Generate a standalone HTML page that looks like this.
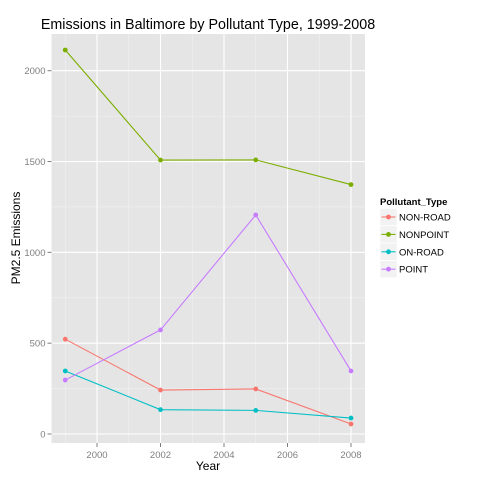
<!DOCTYPE html>
<html><head><meta charset="utf-8"><style>body{margin:0;background:#fff}svg{display:block;font-family:"Liberation Sans",Arial,sans-serif}</style></head>
<body>
<svg id="c" width="480" height="480"></svg>
<script>
const years=[1999,2002,2005,2008];
const seriesNames=["NON-ROAD","NONPOINT","ON-ROAD","POINT"];
const colors=["#F8766D","#7CAE00","#00BFC4","#C77CFF"];
const nonRoad=[522,242,248,55];
const nonPoint=[2114,1508,1509,1373];
const onRoad=[347,134,130,88];
const point=[297,573,1206,347];
const allSeries=[nonRoad,nonPoint,onRoad,point];
const xTicks=[2000,2002,2004,2006,2008];
const yTicks=[0,500,1000,1500,2000];
const NS="http://www.w3.org/2000/svg";
const svg=document.getElementById('c');
function X(v){return 97+(v-2000)*31.75;}
function Y(v){return 434-v*0.18165;}
function mk(t,a,p){const e=document.createElementNS(NS,t);for(const k in a)e.setAttribute(k,a[k]);(p||svg).appendChild(e);return e;}
const L=51.5,R=365,T=34,B=443;
const panel=mk('rect',{x:L,y:T,width:R-L,height:B-T,fill:'#E5E5E5'});


for(let i=0;i<xTicks.length+1;i++){const v=1999+2*i;if(X(v)>L&&X(v)<R){const g=mk('line',{x1:X(v),x2:X(v),y1:T,y2:B,stroke:'#F2F2F2','stroke-width':0.6});}}
for(let i=0;i<yTicks.length;i++){const v=yTicks[i]+250;if(Y(v)>T){const g=mk('line',{x1:L,x2:R,y1:Y(v),y2:Y(v),stroke:'#F2F2F2','stroke-width':0.6});}}
xTicks.forEach(v=>{
 const g=mk('line',{x1:X(v),x2:X(v),y1:T,y2:B,stroke:'#fff','stroke-width':1.1});
 
 mk('line',{x1:X(v),x2:X(v),y1:B,y2:B+4,stroke:'#7F7F7F'});
 const t=mk('text',{x:X(v),y:B+15,'font-size':9.5,fill:'#7F7F7F','text-anchor':'middle'});t.textContent=v;
 
});
yTicks.forEach(v=>{
 const g=mk('line',{x1:L,x2:R,y1:Y(v),y2:Y(v),stroke:'#fff','stroke-width':1.1});
 
 mk('line',{x1:L-4,x2:L,y1:Y(v),y2:Y(v),stroke:'#7F7F7F'});
 const t=mk('text',{x:L-6,y:Y(v)+3.5,'font-size':9.5,fill:'#7F7F7F','text-anchor':'end'});t.textContent=v;
 
});
allSeries.forEach((s,i)=>{
 const pl=mk('polyline',{points:s.map((v,j)=>X(years[j])+','+Y(v)).join(' '),fill:'none',stroke:colors[i],'stroke-width':1.1});
 
 s.forEach((v,j)=>{const c=mk('circle',{cx:X(years[j]),cy:Y(v),r:2.4,fill:colors[i]});
 });
});
let t=mk('text',{x:208,y:29,'font-size':14.3,'text-anchor':'middle',fill:'#000'});t.textContent='Emissions in Baltimore by Pollutant Type, 1999-2008';

t=mk('text',{x:208,y:470,'font-size':12,'text-anchor':'middle',fill:'#000'});t.textContent='Year';

t=mk('text',{x:20,y:238,'font-size':12,'text-anchor':'middle',fill:'#000',transform:'rotate(-90 20 238)'});t.textContent='PM2.5 Emissions';

t=mk('text',{x:380,y:205,'font-size':9.5,'font-weight':'bold',fill:'#000'});t.textContent='Pollutant_Type';

seriesNames.forEach((n,i)=>{
 const cy=217+i*17.4;
 const g=mk('g',{});
 mk('rect',{x:380,y:cy-8.5,width:17,height:17,fill:'#F2F2F2',stroke:'#fff','stroke-width':0.5},g);
 mk('line',{x1:381.5,x2:395.5,y1:cy,y2:cy,stroke:colors[i],'stroke-width':1.1},g);
 mk('circle',{cx:388.5,cy:cy,r:2.4,fill:colors[i]},g);
 const tt=mk('text',{x:399,y:cy+3.5,'font-size':9.5,fill:'#000'},g);tt.textContent=n;
});
</script>
</body></html>
